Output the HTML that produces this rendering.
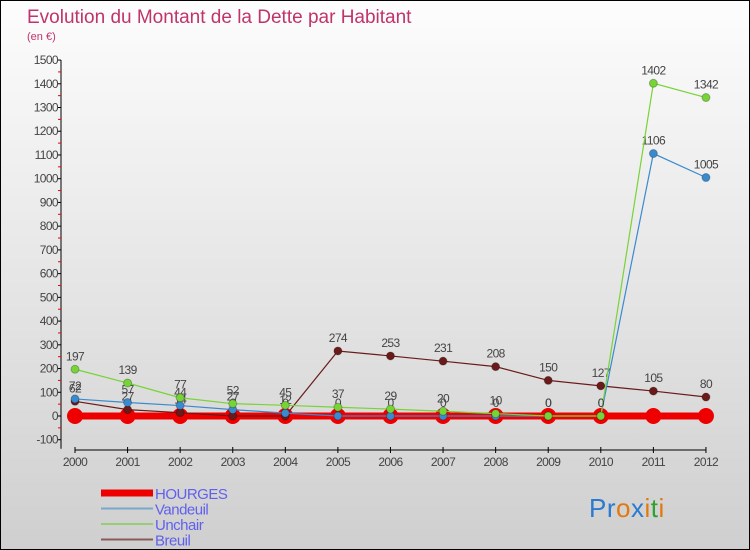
<!DOCTYPE html>
<html><head><meta charset="utf-8"><style>
body{margin:0;}
#wrap{width:748px;height:548px;border:1px solid #000;background:linear-gradient(#fdfdfd,#cfcfcf);position:relative;font-family:"Liberation Sans",sans-serif;}
svg{position:absolute;left:0;top:0}
</style></head><body>
<div id="wrap">
<svg id="c" width="748" height="548"></svg>
</div>
<script>
const years=[2000,2001,2002,2003,2004,2005,2006,2007,2008,2009,2010,2011,2012];
const hourges=[0,0,0,0,0,0,0,0,0,0,0,0,0];
const vandeuil=[72,57,44,27,12,0,0,0,0,0,0,1106,1005];
const unchair=[197,139,77,52,45,37,29,20,10,0,0,1402,1342];
const breuil=[62,27,14,0,0,274,253,231,208,150,127,105,80];
const yTicks=[-100,0,100,200,300,400,500,600,700,800,900,1000,1100,1200,1300,1400,1500];
const NS="http://www.w3.org/2000/svg";
const svg=document.getElementById('c');
const X=i=>74+i*52.58;
const Y=v=>415-v*0.2373;
function el(t,a,p){const e=document.createElementNS(NS,t);for(const k in a)e.setAttribute(k,a[k]);(p||svg).appendChild(e);return e;}
let t=el('text',{x:26,y:22,fill:'#c0336b','font-size':19});t.textContent='Evolution du Montant de la Dette par Habitant';

t=el('text',{x:26,y:39,fill:'#c0336b','font-size':11});t.textContent='(en €)';

let a=el('line',{x1:60,y1:Y(1500),x2:60,y2:Y(-100)+9,stroke:'#000'});

yTicks.forEach(v=>{el('line',{x1:56,y1:Y(v),x2:60,y2:Y(v),stroke:'#000'});
 if(v<1500)el('line',{x1:57,y1:Y(v+50),x2:60,y2:Y(v+50),stroke:'#e00'});
 const l=el('text',{x:57,y:Y(v)+4,'text-anchor':'end','font-size':12,fill:'#444','letter-spacing':'-0.6'});l.textContent=v;
 });
a=el('line',{x1:74,y1:449,x2:X(12),y2:449,stroke:'#000'});

years.forEach((y,i)=>{el('line',{x1:X(i),y1:446,x2:X(i),y2:452,stroke:'#000'});
 const l=el('text',{x:X(i),y:465,'text-anchor':'middle','font-size':12,fill:'#444','letter-spacing':'-0.6'});l.textContent=y;
 });
function series(d,col,w,r,name,lab){
 const g=el('g',{});
 el('polyline',{points:d.map((v,i)=>X(i)+','+Y(v)).join(' '),fill:'none',stroke:col,'stroke-width':w},g);
 d.forEach((v,i)=>{const c=el('circle',{cx:X(i),cy:Y(v),r:r,fill:col,stroke:name==='hourges'?'none':'rgba(0,0,0,0.25)'},g);
  
  if(lab){const l=el('text',{x:X(i),y:Y(v)-9,'text-anchor':'middle','font-size':12,fill:'#444','letter-spacing':'-0.6'},g);l.textContent=v;}});
}
series(hourges,'#ee0000',7,8,'hourges',false);
series(breuil,'#6b1a1a',1.2,4,'breuil',true);
series(vandeuil,'#3a8ad0',1.2,4,'vandeuil',true);
series(unchair,'#77d436',1.2,4,'unchair',true);
const leg=[['HOURGES','#ee0000',7],['Vandeuil','#7aa8cc',2],['Unchair','#99cc77',2],['Breuil','#8a5a5a',2]];
leg.forEach((l,i)=>{const g=el('g',{});
 const yy=492+i*15.5;el('line',{x1:100,y1:yy,x2:152,y2:yy,stroke:l[1],'stroke-width':l[2]},g);
 const tx=el('text',{x:154,y:yy+6,'font-size':15,fill:'#6060ee','letter-spacing':'-0.5'},g);tx.textContent=l[0];});
const p=el('text',{x:588,y:516,'font-size':26,'letter-spacing':'0.5'});
[['P','#2a7ad0'],['r','#2a7ad0'],['o','#e07a10'],['x','#2a7ad0'],['i','#e07a10'],['t','#30a030'],['i','#e07a10']].forEach(c=>{const s=el('tspan',{fill:c[1]},p);s.textContent=c[0];});
</script>
</body></html>
